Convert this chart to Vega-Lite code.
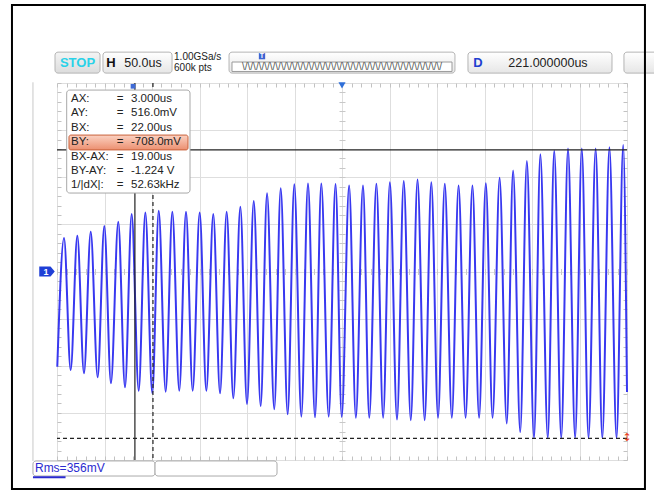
{
  "$schema": "https://vega.github.io/schema/vega-lite/v6.json",
  "width": 570,
  "height": 377,
  "autosize": {"type": "none"},
  "padding": {"left": 57, "top": 83, "right": 27, "bottom": 33},
  "background": "white",
  "config": {"view": {"stroke": null}, "font": "Liberation Sans"},
  "datasets": {
    "trace": [
      {"t": -78.7, "mV": -404}, {"t": -71.6, "mV": 142}, {"t": -64.6, "mV": -418}, {"t": -57.6, "mV": 152},
      {"t": -50.6, "mV": -432}, {"t": -43.5, "mV": 169}, {"t": -36.2, "mV": -449}, {"t": -29.2, "mV": 193},
      {"t": -22.2, "mV": -474}, {"t": -14.5, "mV": 211}, {"t": -7.4, "mV": -491}, {"t": -0.4, "mV": 244},
      {"t": 7.0, "mV": -506}, {"t": 14.0, "mV": 250}, {"t": 21.3, "mV": -517}, {"t": 28.1, "mV": 258},
      {"t": 35.4, "mV": -510}, {"t": 42.4, "mV": 254}, {"t": 49.7, "mV": -506}, {"t": 56.8, "mV": 254},
      {"t": 63.8, "mV": -506}, {"t": 71.2, "mV": 250}, {"t": 78.2, "mV": -506}, {"t": 85.5, "mV": 244},
      {"t": 92.6, "mV": -517}, {"t": 99.6, "mV": 254}, {"t": 106.6, "mV": -538}, {"t": 114.0, "mV": 275},
      {"t": 121.0, "mV": -562}, {"t": 128.1, "mV": 299}, {"t": 135.4, "mV": -571}, {"t": 142.1, "mV": 332},
      {"t": 149.7, "mV": -585}, {"t": 156.5, "mV": 353}, {"t": 163.8, "mV": -606}, {"t": 170.8, "mV": 370},
      {"t": 178.2, "mV": -616}, {"t": 185.2, "mV": 374}, {"t": 192.6, "mV": -619}, {"t": 199.2, "mV": 374},
      {"t": 207.0, "mV": -616}, {"t": 214.2, "mV": 371}, {"t": 220.7, "mV": -617}, {"t": 228.5, "mV": 365},
      {"t": 235.6, "mV": -621}, {"t": 243.1, "mV": 365}, {"t": 249.7, "mV": -621}, {"t": 257.2, "mV": 372},
      {"t": 264.3, "mV": -621}, {"t": 271.4, "mV": 379}, {"t": 278.9, "mV": -628}, {"t": 286.0, "mV": 384},
      {"t": 293.4, "mV": -631}, {"t": 300.5, "mV": 390}, {"t": 308.0, "mV": -631}, {"t": 315.0, "mV": 379},
      {"t": 322.1, "mV": -621}, {"t": 329.2, "mV": 372}, {"t": 336.6, "mV": -621}, {"t": 343.7, "mV": 365},
      {"t": 351.1, "mV": -621}, {"t": 358.3, "mV": 365}, {"t": 365.3, "mV": -621}, {"t": 372.4, "mV": 375},
      {"t": 379.5, "mV": -621}, {"t": 386.9, "mV": 398}, {"t": 394.4, "mV": -645}, {"t": 401.1, "mV": 429},
      {"t": 408.6, "mV": -682}, {"t": 415.6, "mV": 469}, {"t": 423.1, "mV": -707}, {"t": 429.8, "mV": 498},
      {"t": 437.6, "mV": -707}, {"t": 444.4, "mV": 512}, {"t": 451.8, "mV": -707}, {"t": 458.9, "mV": 522},
      {"t": 466.4, "mV": -707}, {"t": 473.4, "mV": 522}, {"t": 480.5, "mV": -707}, {"t": 488.0, "mV": 522},
      {"t": 495.0, "mV": -707}, {"t": 502.5, "mV": 527}, {"t": 510.0, "mV": -707}, {"t": 517.0, "mV": 537},
      {"t": 521.0, "mV": -511}
    ],
    "readout": [
      {"lab": "AX:", "val": "3.000us", "v": 734},
      {"lab": "AY:", "val": "516.0mV", "v": 673},
      {"lab": "BX:", "val": "22.00us", "v": 611},
      {"lab": "BY:", "val": "-708.0mV", "v": 550},
      {"lab": "BX-AX:", "val": "19.00us", "v": 488},
      {"lab": "BY-AY:", "val": "-1.224 V", "v": 427},
      {"lab": "1/|dX|:", "val": "52.63kHz", "v": 365}
    ],
    "toolboxes": [
      {"t1": -30.6, "t2": 42.1, "v1": 931, "v2": 842},
      {"t1": 102.1, "t2": 339.9, "v1": 931, "v2": 842},
      {"t1": 353.6, "t2": 505.2, "v1": 931, "v2": 842},
      {"t1": 517.8, "t2": 560, "v1": 931, "v2": 842}
    ],
    "bottomboxes": [
      {"t1": -104.3, "t2": 24.2, "v1": -804, "v2": -868},
      {"t1": 24.2, "t2": 152.6, "v1": -804, "v2": -868}
    ]
  },
  "resolve": {"axis": {"x": "independent", "y": "independent"}},
  "layer": [
    {
      "data": {"name": "trace"},
      "mark": {"type": "line", "interpolate": "monotone", "color": "#3838f0", "strokeWidth": 2},
      "encoding": {
        "x": {"field": "t", "type": "quantitative", "scale": {"domain": [-79, 521], "nice": false, "zero": false},
          "axis": {"orient": "bottom", "values": [-79, -29, 21, 71, 121, 171, 221, 271, 321, 371, 421, 471, 521], "grid": true, "gridColor": "#dedede", "gridWidth": 1, "labels": false, "ticks": false, "domain": false, "title": null}},
        "y": {"field": "mV", "type": "quantitative", "scale": {"domain": [-800, 800], "nice": false, "zero": false},
          "axis": {"orient": "left", "values": [-800, -600, -400, -200, 0, 200, 400, 600, 800], "grid": true, "gridColor": "#dedede", "gridWidth": 1, "labels": false, "ticks": false, "domain": false, "title": null}}
      }
    },
    {
      "data": {"name": "trace"},
      "mark": {"type": "point", "opacity": 0},
      "encoding": {
        "x": {"field": "t", "type": "quantitative", "scale": {"domain": [-79, 521], "nice": false, "zero": false},
          "axis": {"orient": "bottom", "offset": -4, "tickSize": 4, "tickColor": "#c2c2c2", "values": [-79,-69,-59,-49,-39,-29,-19,-9,1,11,21,31,41,51,61,71,81,91,101,111,121,131,141,151,161,171,181,191,201,211,221,231,241,251,261,271,281,291,301,311,321,331,341,351,361,371,381,391,401,411,421,431,441,451,461,471,481,491,501,511,521], "labels": false, "domain": false, "grid": false, "title": null}},
        "y": {"field": "mV", "type": "quantitative", "scale": {"domain": [-800, 800], "nice": false, "zero": false},
          "axis": {"orient": "left", "offset": -4, "tickSize": 4, "tickColor": "#c2c2c2", "values": [-800,-760,-720,-680,-640,-600,-560,-520,-480,-440,-400,-360,-320,-280,-240,-200,-160,-120,-80,-40,0,40,80,120,160,200,240,280,320,360,400,440,480,520,560,600,640,680,720,760,800], "labels": false, "domain": false, "grid": false, "title": null}}
      }
    },
    {
      "data": {"name": "trace"},
      "mark": {"type": "point", "opacity": 0},
      "encoding": {
        "x": {"field": "t", "type": "quantitative", "scale": {"domain": [-79, 521], "nice": false, "zero": false},
          "axis": {"orient": "top", "offset": -4, "tickSize": 4, "tickColor": "#c2c2c2", "values": [-79,-69,-59,-49,-39,-29,-19,-9,1,11,21,31,41,51,61,71,81,91,101,111,121,131,141,151,161,171,181,191,201,211,221,231,241,251,261,271,281,291,301,311,321,331,341,351,361,371,381,391,401,411,421,431,441,451,461,471,481,491,501,511,521], "labels": false, "domain": false, "grid": false, "title": null}},
        "y": {"field": "mV", "type": "quantitative", "scale": {"domain": [-800, 800], "nice": false, "zero": false},
          "axis": {"orient": "right", "offset": -4, "tickSize": 4, "tickColor": "#c2c2c2", "values": [-800,-760,-720,-680,-640,-600,-560,-520,-480,-440,-400,-360,-320,-280,-240,-200,-160,-120,-80,-40,0,40,80,120,160,200,240,280,320,360,400,440,480,520,560,600,640,680,720,760,800], "labels": false, "domain": false, "grid": false, "title": null}}
      }
    },
    {
      "data": {"name": "trace"},
      "mark": {"type": "point", "opacity": 0},
      "encoding": {
        "x": {"field": "t", "type": "quantitative", "scale": {"domain": [-79, 521], "nice": false, "zero": false},
          "axis": {"orient": "bottom", "offset": -191.5, "tickSize": 6, "tickColor": "#c8c8c8", "values": [-79,-69,-59,-49,-39,-29,-19,-9,1,11,21,31,41,51,61,71,81,91,101,111,121,131,141,151,161,171,181,191,201,211,221,231,241,251,261,271,281,291,301,311,321,331,341,351,361,371,381,391,401,411,421,431,441,451,461,471,481,491,501,511,521], "labels": false, "domain": false, "grid": false, "title": null}},
        "y": {"field": "mV", "type": "quantitative", "scale": {"domain": [-800, 800], "nice": false, "zero": false},
          "axis": {"orient": "left", "offset": -288, "tickSize": 6, "tickColor": "#c8c8c8", "values": [-800,-760,-720,-680,-640,-600,-560,-520,-480,-440,-400,-360,-320,-280,-240,-200,-160,-120,-80,-40,0,40,80,120,160,200,240,280,320,360,400,440,480,520,560,600,640,680,720,760,800], "labels": false, "domain": false, "grid": false, "title": null}}
      }
    },
    {
      "data": {"values": [{"t": 3}]},
      "mark": {"type": "rule", "color": "#222222", "strokeWidth": 1.2},
      "encoding": {"x": {"field": "t", "type": "quantitative", "scale": {"domain": [-79, 521], "nice": false, "zero": false}, "axis": null}}
    },
    {
      "data": {"values": [{"t": 22}]},
      "mark": {"type": "rule", "color": "#222222", "strokeWidth": 1.2, "strokeDash": [4, 3]},
      "encoding": {"x": {"field": "t", "type": "quantitative", "scale": {"domain": [-79, 521], "nice": false, "zero": false}, "axis": null}}
    },
    {
      "data": {"values": [{"v": 516}]},
      "mark": {"type": "rule", "color": "#222222", "strokeWidth": 1.2},
      "encoding": {"y": {"field": "v", "type": "quantitative", "scale": {"domain": [-800, 800], "nice": false, "zero": false}, "axis": null}}
    },
    {
      "data": {"values": [{"v": -708}]},
      "mark": {"type": "rule", "color": "#222222", "strokeWidth": 1.2, "strokeDash": [4, 3]},
      "encoding": {"y": {"field": "v", "type": "quantitative", "scale": {"domain": [-800, 800], "nice": false, "zero": false}, "axis": null}}
    },
    {
      "data": {"values": [{"t1": -68.8, "t2": 61, "v1": 770, "v2": 333}]},
      "mark": {"type": "rect", "fill": "white", "stroke": "#a8a8a8", "strokeWidth": 1, "cornerRadius": 3},
      "encoding": {
        "x": {"field": "t1", "type": "quantitative", "scale": {"domain": [-79, 521], "nice": false, "zero": false}, "axis": null},
        "x2": {"field": "t2"},
        "y": {"field": "v1", "type": "quantitative", "scale": {"domain": [-800, 800], "nice": false, "zero": false}, "axis": null},
        "y2": {"field": "v2"}
      }
    },
    {
      "data": {"values": [{"t1": -66.4, "t2": 58.9, "v1": 579, "v2": 516}]},
      "mark": {"type": "rect", "stroke": "#c8603a", "strokeWidth": 1, "cornerRadius": 2,
        "fill": {"gradient": "linear", "x1": 0, "y1": 0, "x2": 0, "y2": 1, "stops": [{"offset": 0, "color": "#fbd2c2"}, {"offset": 1, "color": "#ec8f70"}]}},
      "encoding": {
        "x": {"field": "t1", "type": "quantitative", "scale": {"domain": [-79, 521], "nice": false, "zero": false}, "axis": null},
        "x2": {"field": "t2"},
        "y": {"field": "v1", "type": "quantitative", "scale": {"domain": [-800, 800], "nice": false, "zero": false}, "axis": null},
        "y2": {"field": "v2"}
      }
    },
    {
      "data": {"name": "readout"},
      "mark": {"type": "text", "align": "left", "baseline": "middle", "fontSize": 11.5, "color": "#222222"},
      "encoding": {
        "x": {"datum": -64.3, "type": "quantitative", "scale": {"domain": [-79, 521], "nice": false, "zero": false}, "axis": null},
        "y": {"field": "v", "type": "quantitative", "scale": {"domain": [-800, 800], "nice": false, "zero": false}, "axis": null},
        "text": {"field": "lab"}
      }
    },
    {
      "data": {"name": "readout"},
      "mark": {"type": "text", "align": "center", "baseline": "middle", "fontSize": 11.5, "color": "#222222", "text": "="},
      "encoding": {
        "x": {"datum": -12.7, "type": "quantitative", "scale": {"domain": [-79, 521], "nice": false, "zero": false}, "axis": null},
        "y": {"field": "v", "type": "quantitative", "scale": {"domain": [-800, 800], "nice": false, "zero": false}, "axis": null}
      }
    },
    {
      "data": {"name": "readout"},
      "mark": {"type": "text", "align": "left", "baseline": "middle", "fontSize": 11.5, "color": "#222222"},
      "encoding": {
        "x": {"datum": -1.1, "type": "quantitative", "scale": {"domain": [-79, 521], "nice": false, "zero": false}, "axis": null},
        "y": {"field": "v", "type": "quantitative", "scale": {"domain": [-800, 800], "nice": false, "zero": false}, "axis": null},
        "text": {"field": "val"}
      }
    },
    {
      "data": {"values": [{"t1": -81.1, "t2": -33.7, "v1": 931, "v2": 842}]},
      "mark": {"type": "rect", "stroke": "#b4b4b4", "strokeWidth": 1, "cornerRadius": 3,
        "fill": {"gradient": "linear", "x1": 0, "y1": 0, "x2": 0, "y2": 1, "stops": [{"offset": 0, "color": "#f4f4f4"}, {"offset": 1, "color": "#dcdcdc"}]}},
      "encoding": {
        "x": {"field": "t1", "type": "quantitative", "scale": {"domain": [-79, 521], "nice": false, "zero": false}, "axis": null},
        "x2": {"field": "t2"},
        "y": {"field": "v1", "type": "quantitative", "scale": {"domain": [-800, 800], "nice": false, "zero": false}, "axis": null},
        "y2": {"field": "v2"}
      }
    },
    {
      "data": {"name": "toolboxes"},
      "mark": {"type": "rect", "stroke": "#b4b4b4", "strokeWidth": 1, "cornerRadius": 3,
        "fill": {"gradient": "linear", "x1": 0, "y1": 0, "x2": 0, "y2": 1, "stops": [{"offset": 0, "color": "#ffffff"}, {"offset": 1, "color": "#e6e6e6"}]}},
      "encoding": {
        "x": {"field": "t1", "type": "quantitative", "scale": {"domain": [-79, 521], "nice": false, "zero": false}, "axis": null},
        "x2": {"field": "t2"},
        "y": {"field": "v1", "type": "quantitative", "scale": {"domain": [-800, 800], "nice": false, "zero": false}, "axis": null},
        "y2": {"field": "v2"}
      }
    },
    {
      "data": {"values": [{"t1": 105.2, "t2": 336.8, "v1": 889, "v2": 849}]},
      "mark": {"type": "rect", "fill": "white", "stroke": "#9a9a9a", "strokeWidth": 1},
      "encoding": {
        "x": {"field": "t1", "type": "quantitative", "scale": {"domain": [-79, 521], "nice": false, "zero": false}, "axis": null},
        "x2": {"field": "t2"},
        "y": {"field": "v1", "type": "quantitative", "scale": {"domain": [-800, 800], "nice": false, "zero": false}, "axis": null},
        "y2": {"field": "v2"}
      }
    },
    {
      "data": {"values": [{"t": 221, "v": 866, "txt": "\\/\\/\\/\\/\\/\\/\\/\\/\\/\\/\\/\\/\\/\\/\\/\\/\\/\\/\\/\\/\\/\\/\\/\\/\\/\\/\\/\\/\\/\\/\\/\\/\\/\\/\\/\\/"}]},
      "mark": {"type": "text", "align": "center", "baseline": "middle", "fontSize": 10, "color": "#555555"},
      "encoding": {
        "x": {"field": "t", "type": "quantitative", "scale": {"domain": [-79, 521], "nice": false, "zero": false}, "axis": null},
        "y": {"field": "v", "type": "quantitative", "scale": {"domain": [-800, 800], "nice": false, "zero": false}, "axis": null},
        "text": {"field": "txt"}
      }
    },
    {
      "data": {"values": [{"t": 136.8, "v": 914}]},
      "mark": {"type": "point", "shape": "square", "filled": true, "size": 40, "color": "#3f64d2", "opacity": 1},
      "encoding": {
        "x": {"field": "t", "type": "quantitative", "scale": {"domain": [-79, 521], "nice": false, "zero": false}, "axis": null},
        "y": {"field": "v", "type": "quantitative", "scale": {"domain": [-800, 800], "nice": false, "zero": false}, "axis": null}
      }
    },
    {
      "data": {"values": [{"t": 136.8, "v": 914}]},
      "mark": {"type": "text", "align": "center", "baseline": "middle", "fontSize": 7, "fontWeight": "bold", "color": "white", "text": "T"},
      "encoding": {
        "x": {"field": "t", "type": "quantitative", "scale": {"domain": [-79, 521], "nice": false, "zero": false}, "axis": null},
        "y": {"field": "v", "type": "quantitative", "scale": {"domain": [-800, 800], "nice": false, "zero": false}, "axis": null}
      }
    },
    {
      "data": {"values": [{"t": -57.4, "v": 887, "txt": "STOP"}]},
      "mark": {"type": "text", "align": "center", "baseline": "middle", "fontSize": 13, "fontWeight": "bold", "color": "#2ad2e8"},
      "encoding": {
        "x": {"field": "t", "type": "quantitative", "scale": {"domain": [-79, 521], "nice": false, "zero": false}, "axis": null},
        "y": {"field": "v", "type": "quantitative", "scale": {"domain": [-800, 800], "nice": false, "zero": false}, "axis": null},
        "text": {"field": "txt"}
      }
    },
    {
      "data": {"values": [{"t": -22.2, "v": 887, "txt": "H"}]},
      "mark": {"type": "text", "align": "center", "baseline": "middle", "fontSize": 13, "fontWeight": "bold", "color": "#111111"},
      "encoding": {
        "x": {"field": "t", "type": "quantitative", "scale": {"domain": [-79, 521], "nice": false, "zero": false}, "axis": null},
        "y": {"field": "v", "type": "quantitative", "scale": {"domain": [-800, 800], "nice": false, "zero": false}, "axis": null},
        "text": {"field": "txt"}
      }
    },
    {
      "data": {"values": [{"t": 364.2, "v": 887, "txt": "D"}]},
      "mark": {"type": "text", "align": "center", "baseline": "middle", "fontSize": 13, "fontWeight": "bold", "color": "#1f3fd0"},
      "encoding": {
        "x": {"field": "t", "type": "quantitative", "scale": {"domain": [-79, 521], "nice": false, "zero": false}, "axis": null},
        "y": {"field": "v", "type": "quantitative", "scale": {"domain": [-800, 800], "nice": false, "zero": false}, "axis": null},
        "text": {"field": "txt"}
      }
    },
    {
      "data": {"values": [{"t": 11.5, "v": 887, "txt": "50.0us"}, {"t": 437.8, "v": 887, "txt": "221.000000us"}]},
      "mark": {"type": "text", "align": "center", "baseline": "middle", "fontSize": 12.5, "color": "#222222"},
      "encoding": {
        "x": {"field": "t", "type": "quantitative", "scale": {"domain": [-79, 521], "nice": false, "zero": false}, "axis": null},
        "y": {"field": "v", "type": "quantitative", "scale": {"domain": [-800, 800], "nice": false, "zero": false}, "axis": null},
        "text": {"field": "txt"}
      }
    },
    {
      "data": {"values": [{"t": 44.2, "v": 910, "txt": "1.00GSa/s"}, {"t": 44.2, "v": 864, "txt": "600k pts"}]},
      "mark": {"type": "text", "align": "left", "baseline": "middle", "fontSize": 10, "color": "#222222"},
      "encoding": {
        "x": {"field": "t", "type": "quantitative", "scale": {"domain": [-79, 521], "nice": false, "zero": false}, "axis": null},
        "y": {"field": "v", "type": "quantitative", "scale": {"domain": [-800, 800], "nice": false, "zero": false}, "axis": null},
        "text": {"field": "txt"}
      }
    },
    {
      "data": {"values": [{"t": -104.3, "v1": 803, "v2": -804}]},
      "mark": {"type": "rule", "color": "#c8c8c8", "strokeWidth": 1},
      "encoding": {
        "x": {"field": "t", "type": "quantitative", "scale": {"domain": [-79, 521], "nice": false, "zero": false}, "axis": null},
        "y": {"field": "v1", "type": "quantitative", "scale": {"domain": [-800, 800], "nice": false, "zero": false}, "axis": null},
        "y2": {"field": "v2"}
      }
    },
    {
      "data": {"name": "bottomboxes"},
      "mark": {"type": "rect", "fill": "white", "stroke": "#aaaaaa", "strokeWidth": 1, "cornerRadius": 3},
      "encoding": {
        "x": {"field": "t1", "type": "quantitative", "scale": {"domain": [-79, 521], "nice": false, "zero": false}, "axis": null},
        "x2": {"field": "t2"},
        "y": {"field": "v1", "type": "quantitative", "scale": {"domain": [-800, 800], "nice": false, "zero": false}, "axis": null},
        "y2": {"field": "v2"}
      }
    },
    {
      "data": {"values": [{"t1": -104.3, "t2": -70, "v": -873}]},
      "mark": {"type": "rule", "color": "#2b2bd0", "strokeWidth": 2},
      "encoding": {
        "x": {"field": "t1", "type": "quantitative", "scale": {"domain": [-79, 521], "nice": false, "zero": false}, "axis": null},
        "x2": {"field": "t2"},
        "y": {"field": "v", "type": "quantitative", "scale": {"domain": [-800, 800], "nice": false, "zero": false}, "axis": null}
      }
    },
    {
      "data": {"values": [{"t": -102.2, "v": -836, "txt": "Rms=356mV"}]},
      "mark": {"type": "text", "align": "left", "baseline": "middle", "fontSize": 12, "color": "#2b2bd0"},
      "encoding": {
        "x": {"field": "t", "type": "quantitative", "scale": {"domain": [-79, 521], "nice": false, "zero": false}, "axis": null},
        "y": {"field": "v", "type": "quantitative", "scale": {"domain": [-800, 800], "nice": false, "zero": false}, "axis": null},
        "text": {"field": "txt"}
      }
    },
    {
      "data": {"values": [{"t": -89.5, "v": 0}]},
      "mark": {"type": "point", "shape": "M-1,-0.65L0.45,-0.65L1,0L0.45,0.65L-1,0.65Z", "filled": true, "size": 240, "color": "#1f3fd6", "opacity": 1},
      "encoding": {
        "x": {"field": "t", "type": "quantitative", "scale": {"domain": [-79, 521], "nice": false, "zero": false}, "axis": null},
        "y": {"field": "v", "type": "quantitative", "scale": {"domain": [-800, 800], "nice": false, "zero": false}, "axis": null}
      }
    },
    {
      "data": {"values": [{"t": -90.5, "v": 0}]},
      "mark": {"type": "text", "align": "center", "baseline": "middle", "fontSize": 9, "fontWeight": "bold", "color": "white", "text": "1"},
      "encoding": {
        "x": {"field": "t", "type": "quantitative", "scale": {"domain": [-79, 521], "nice": false, "zero": false}, "axis": null},
        "y": {"field": "v", "type": "quantitative", "scale": {"domain": [-800, 800], "nice": false, "zero": false}, "axis": null}
      }
    },
    {
      "data": {"values": [{"t": 221, "v": 790}]},
      "mark": {"type": "point", "shape": "triangle-down", "filled": true, "size": 50, "color": "#2f6fd8", "opacity": 1},
      "encoding": {
        "x": {"field": "t", "type": "quantitative", "scale": {"domain": [-79, 521], "nice": false, "zero": false}, "axis": null},
        "y": {"field": "v", "type": "quantitative", "scale": {"domain": [-800, 800], "nice": false, "zero": false}, "axis": null}
      }
    },
    {
      "data": {"values": [{"t": 1, "v": 786}]},
      "mark": {"type": "point", "shape": "square", "filled": true, "size": 22, "color": "#3f6bd6", "opacity": 1},
      "encoding": {
        "x": {"field": "t", "type": "quantitative", "scale": {"domain": [-79, 521], "nice": false, "zero": false}, "axis": null},
        "y": {"field": "v", "type": "quantitative", "scale": {"domain": [-800, 800], "nice": false, "zero": false}, "axis": null}
      }
    },
    {
      "data": {"values": [{"t": 521, "v": -708}]},
      "mark": {"type": "text", "align": "center", "baseline": "middle", "fontSize": 11, "font": "DejaVu Sans", "color": "#e8401a", "text": "↕"},
      "encoding": {
        "x": {"field": "t", "type": "quantitative", "scale": {"domain": [-79, 521], "nice": false, "zero": false}, "axis": null},
        "y": {"field": "v", "type": "quantitative", "scale": {"domain": [-800, 800], "nice": false, "zero": false}, "axis": null}
      }
    },
    {
      "data": {"values": [{"t1": -126.4, "t2": 539.9, "v1": 1131, "v2": -923}]},
      "mark": {"type": "rect", "fill": "white", "fillOpacity": 0, "stroke": "#000000", "strokeWidth": 2},
      "encoding": {
        "x": {"field": "t1", "type": "quantitative", "scale": {"domain": [-79, 521], "nice": false, "zero": false}, "axis": null},
        "x2": {"field": "t2"},
        "y": {"field": "v1", "type": "quantitative", "scale": {"domain": [-800, 800], "nice": false, "zero": false}, "axis": null},
        "y2": {"field": "v2"}
      }
    }
  ]
}
